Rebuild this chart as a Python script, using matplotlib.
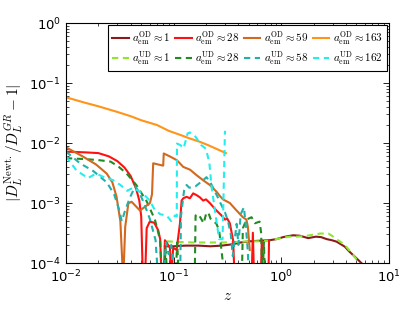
import numpy as np
import matplotlib
matplotlib.use('Agg')
import matplotlib.pyplot as plt

plt.rcParams['mathtext.fontset'] = 'cm'
plt.rcParams['font.family'] = ['DejaVu Sans']

LOW = 5e-5  # values below the axis floor (line leaves the plot)

# overdense, a_em ~ 1
z_od1 = [0.083, 0.1, 0.13, 0.17, 0.22, 0.28, 0.35, 0.42, 0.51, 0.62, 0.78, 0.9,
         1.04, 1.15, 1.29, 1.49, 1.78, 2.1, 2.35, 2.65, 2.95, 3.27, 3.9, 4.3, 5.0, 5.55]
d_od1 = [1.9e-4, 1.9e-4, 1.95e-4, 1.95e-4, 1.9e-4, 1.95e-4, 2.05e-4, 2.2e-4, 2.3e-4,
         2.35e-4, 2.4e-4, 2.5e-4, 2.7e-4, 2.8e-4, 2.9e-4, 2.85e-4, 2.6e-4, 2.75e-4,
         2.7e-4, 2.5e-4, 2.4e-4, 2.27e-4, 1.87e-4, 1.55e-4, 1.2e-4, 1.0e-4]

# overdense, a_em ~ 28
z_od28 = [0.01, 0.015, 0.02, 0.025, 0.03, 0.035, 0.04, 0.045, 0.048, 0.05, 0.0519,
          0.0542, 0.0562, 0.06, 0.066, 0.072, 0.075, 0.0775, 0.081, 0.083, 0.086,
          0.0924, 0.095, 0.099, 0.1066, 0.1146, 0.1187, 0.123, 0.132, 0.1417, 0.152,
          0.164, 0.175, 0.188, 0.2, 0.217, 0.25, 0.279, 0.30, 0.315, 0.333, 0.357,
          0.37, 0.53, 0.545, 0.56, 0.645, 0.66, 0.675, 0.76, 0.77]
d_od28 = [7.2e-3, 7.0e-3, 6.8e-3, 6.0e-3, 5.0e-3, 3.9e-3, 2.8e-3, 1.7e-3, 1.1e-3,
          6e-4, LOW, LOW, 3.8e-4, 4.9e-4, 4.7e-4, 3.5e-4, 2.5e-4, LOW, LOW, 2.4e-4,
          2.2e-4, 1.8e-4, LOW, 1.8e-4, 1.65e-4, 4.6e-4, 1.1e-3, 1.2e-3, 1.27e-3,
          1.2e-3, 1.45e-3, 1.35e-3, 1.25e-3, 1.1e-3, 1.15e-3, 1.0e-3, 7.5e-4, 6.2e-4,
          5.3e-4, 5.5e-4, 4.6e-4, 2.4e-4, LOW, LOW, 3.2e-4, LOW, LOW, 2.4e-4, LOW,
          LOW, 2.4e-4]

# overdense, a_em ~ 59
z_od59 = [0.01, 0.0145, 0.019, 0.0239, 0.027, 0.0295, 0.032, 0.034, 0.0355, 0.038,
          0.0407, 0.0487, 0.0603, 0.063, 0.0646, 0.0716, 0.08, 0.081, 0.092, 0.107,
          0.123, 0.142, 0.164, 0.188, 0.217, 0.25, 0.27, 0.288, 0.333, 0.385, 0.44,
          0.475, 0.49, 0.51]
d_od59 = [8.5e-3, 5.9e-3, 4.4e-3, 3.1e-3, 2.2e-3, 1.27e-3, 5e-4, LOW, 4e-4, 9.9e-4,
          1.05e-3, 7.5e-4, 1.0e-3, 1.4e-3, 4.6e-3, 4.4e-3, 4.2e-3, 6.7e-3, 6.0e-3,
          5.2e-3, 4.0e-3, 3.6e-3, 2.9e-3, 2.4e-3, 2.0e-3, 1.55e-3, 1.3e-3, 1.15e-3,
          1.0e-3, 7.5e-4, 5.8e-4, 5.3e-4, 4e-4, 1.65e-4]

# overdense, a_em ~ 163
z_od163 = [0.01, 0.015, 0.02, 0.03, 0.04, 0.05, 0.07, 0.09, 0.115, 0.14, 0.175,
           0.21, 0.25, 0.306]
d_od163 = [0.058, 0.047, 0.041, 0.033, 0.028, 0.024, 0.020, 0.016, 0.0137, 0.012,
           0.0105, 0.0092, 0.0080, 0.0068]

# underdense, a_em ~ 1
z_ud1 = [0.086, 0.11, 0.15, 0.2, 0.3, 0.4, 0.5, 0.65, 0.78, 0.9, 1.04, 1.2, 1.38,
         1.6, 1.84, 2.05, 2.3, 2.74, 3.0, 3.27, 3.9, 4.6, 5.2, 5.4]
d_ud1 = [2.3e-4, 2.25e-4, 2.2e-4, 2.2e-4, 2.2e-4, 2.25e-4, 2.3e-4, 2.3e-4, 2.35e-4,
         2.5e-4, 2.65e-4, 2.75e-4, 2.75e-4, 2.8e-4, 2.9e-4, 3.0e-4, 3.1e-4, 3.1e-4,
         2.8e-4, 2.5e-4, 2.0e-4, 1.4e-4, 1.05e-4, 9.5e-5]

# underdense, a_em ~ 28
z_ud28 = [0.01, 0.015, 0.02, 0.026, 0.031, 0.0366, 0.045, 0.056, 0.067, 0.075,
          0.078, 0.082, 0.084, 0.088, 0.104, 0.108, 0.112, 0.157, 0.16, 0.17, 0.18,
          0.19, 0.2, 0.21, 0.22, 0.235, 0.25, 0.265, 0.28, 0.3, 0.43, 0.44, 0.475,
          0.53, 0.57, 0.63, 0.65, 0.67, 0.69, 0.71]
d_ud28 = [5.6e-3, 5.4e-3, 5.2e-3, 4.9e-3, 4.0e-3, 3.1e-3, 2.0e-3, 1.08e-3, 5.3e-4,
          2.4e-4, LOW, LOW, 1.8e-4, LOW, LOW, 2.2e-4, LOW, LOW, 6.2e-4, 6.5e-4,
          5.5e-4, 4.6e-4, 6.5e-4, 7e-4, 5.5e-4, 5e-4, 4.5e-4, 3.5e-4, 1.5e-4, LOW,
          LOW, 3.8e-4, 5.3e-4, 5.8e-4, 4.6e-4, 4.9e-4, 3.2e-4, LOW, 2.2e-4, LOW]

# underdense, a_em ~ 58
z_ud58 = [0.01, 0.0135, 0.018, 0.024, 0.028, 0.031, 0.033, 0.035, 0.039, 0.044,
          0.048, 0.053, 0.06, 0.068, 0.072, 0.08, 0.085, 0.09, 0.095, 0.1, 0.115,
          0.117, 0.125, 0.132, 0.14, 0.16, 0.188, 0.202, 0.22, 0.24, 0.26, 0.28,
          0.30, 0.32, 0.34, 0.355, 0.37, 0.385, 0.40, 0.42, 0.45, 0.47, 0.49, 0.5]
d_ud58 = [7.2e-3, 4.6e-3, 3.4e-3, 2.2e-3, 1.4e-3, 8e-4, 5e-4, 7e-4, 1.2e-3, 1.9e-3,
          1.5e-3, 1.0e-3, 5.5e-4, 2.4e-4, LOW, LOW, 2.2e-4, 1.4e-4, 2e-4, LOW, LOW,
          6e-4, 1.6e-3, 2.0e-3, 1.8e-3, 1.9e-3, 2.4e-3, 2.7e-3, 2.2e-3, 1.6e-3,
          1.2e-3, 9e-4, 7e-4, 5e-4, 3e-4, 1.3e-4, 2.5e-4, 4.5e-4, 2e-4, 6.5e-4,
          8.5e-4, 4e-4, 1.5e-4, LOW]

# underdense, a_em ~ 162
z_ud162 = [0.01, 0.0125, 0.016, 0.019, 0.022, 0.0275, 0.032, 0.037, 0.042, 0.047,
           0.055, 0.06, 0.066, 0.075, 0.086, 0.095, 0.103, 0.107, 0.1075, 0.115,
           0.124, 0.135, 0.142, 0.16, 0.18, 0.2, 0.215, 0.225, 0.235, 0.25, 0.265,
           0.285, 0.30]
d_ud162 = [6e-3, 3.5e-3, 2.6e-3, 3.1e-3, 2.75e-3, 2.4e-3, 2.0e-3, 1.6e-3, 1.8e-3,
           1.6e-3, 1.3e-3, 1.1e-3, 8e-4, 6.5e-4, 6.2e-4, 5e-4, 6.2e-4, 6e-4, 9.8e-3,
           9.3e-3, 8.2e-3, 1.45e-2, 1.5e-2, 1.27e-2, 9.3e-3, 8e-3, 4.6e-3, 1.9e-3,
           1.1e-3, 5e-4, 2.5e-4, 2.5e-4, 1.6e-2]

# legend labels / colours
od_curves = [(z_od1, d_od1, '1', '#8b1a1a'),
             (z_od28, d_od28, '28', '#ff1111'),
             (z_od59, d_od59, '59', '#d2691e'),
             (z_od163, d_od163, '163', '#ff9418')]
ud_curves = [(z_ud1, d_ud1, '1', '#8ee62e'),
             (z_ud28, d_ud28, '28', '#228b22'),
             (z_ud58, d_ud58, '58', '#20b2aa'),
             (z_ud162, d_ud162, '162', '#22eeee')]

fig = plt.figure(figsize=(4.15, 3.12), dpi=100)
ax = fig.add_axes([0.159, 0.157, 0.778, 0.769])

handles = []
for (zo, do, lo, co), (zu, du, lu, cu) in zip(od_curves, ud_curves):
    h1, = ax.plot(zo, do, color=co, lw=1.5,
                  label=r'$a_{\rm em}^{\rm OD}\approx %s$' % lo)
    handles.append(h1)
    h2, = ax.plot(zu, du, color=cu, lw=1.5, ls=(0, (3.0, 2.2)),
                  label=r'$a_{\rm em}^{\rm UD}\approx %s$' % lu)
    handles.append(h2)

ax.set_xscale('log')
ax.set_yscale('log')
ax.set_xlim(1e-2, 1e1)
ax.set_ylim(1e-4, 1e0)

ax.tick_params(which='both', direction='in', top=True, right=True, labelsize=9.5)
ax.tick_params(which='major', length=4, width=0.6)
ax.tick_params(which='minor', length=2, width=0.5)
ax.tick_params(axis='x', pad=4)
for s in ax.spines.values():
    s.set_linewidth(0.8)

ax.set_xlabel(r'$z$', fontsize=11, labelpad=2)
ax.set_ylabel(r'$|D_L^{\rm Newt.}/D_L^{GR}-1|$', fontsize=11, labelpad=3)

leg = ax.legend(handles=handles, loc='upper right', ncol=4, fontsize=8,
                fancybox=False, edgecolor='black', framealpha=1,
                handlelength=1.5, handletextpad=0.3, columnspacing=0.4,
                borderaxespad=0.2, borderpad=0.35, labelspacing=0.25)
leg.get_frame().set_linewidth(0.8)

fig.savefig('out.png', dpi=100)
